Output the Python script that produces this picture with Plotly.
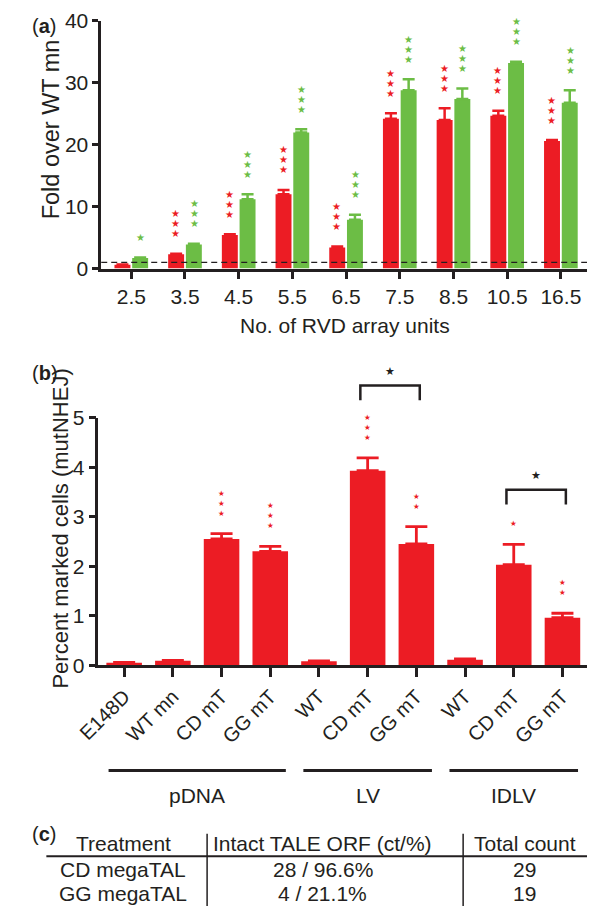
import plotly.graph_objects as go

FONT = "Liberation Sans, Arial, Helvetica, sans-serif"
RED = "#ec1c24"
GREEN = "#6cbd45"
INK = "#231f20"
OFF = 8                      # page body margin
W, H = 595 - OFF, 917 - OFF  # figure fills the rest of the window

# ---------------- Panel (a) data ----------------
rvd_units = ["2.5", "3.5", "4.5", "5.5", "6.5", "7.5", "8.5", "10.5", "16.5"]
red_mean = [0.6, 2.3, 5.4, 12.0, 3.4, 24.2, 24.0, 24.7, 20.6]
red_err = [0.05, 0.1, 0.15, 0.7, 0.15, 0.9, 1.9, 0.8, 0.15]
green_mean = [1.7, 3.9, 11.2, 22.0, 7.9, 28.8, 27.4, 33.2, 26.8]
green_err = [0.1, 0.1, 0.8, 0.5, 0.8, 1.8, 1.7, 0.2, 2.0]
red_stars = [0, 3, 3, 3, 3, 3, 3, 3, 3]
green_stars = [1, 3, 3, 3, 3, 3, 3, 3, 3]
a_yticks = [0, 10, 20, 30, 40]
wt_baseline = 1

# ---------------- Panel (b) data ----------------
b_labels = ["E148D", "WT mn", "CD mT", "GG mT", "WT", "CD mT", "GG mT", "WT", "CD mT", "GG mT"]
b_mean = [0.05, 0.09, 2.55, 2.30, 0.08, 3.93, 2.45, 0.11, 2.03, 0.96]
b_err = [0.01, 0.01, 0.11, 0.10, 0.01, 0.26, 0.35, 0.02, 0.41, 0.09]
b_stars = [0, 0, 3, 3, 0, 3, 2, 0, 1, 2]
b_groups = ["pDNA", "LV", "IDLV"]
b_group_members = [[0, 1, 2, 3], [4, 5, 6], [7, 8, 9]]
b_brackets = [(5, 6), (8, 9)]
b_yticks = [0, 1, 2, 3, 4, 5]

# ---------------- Panel (c) table ----------------
table_header = ["Treatment", "Intact TALE ORF (ct/%)", "Total count"]
table_rows = [["CD megaTAL", "28 / 96.6%", "29"],
              ["GG megaTAL", "4 / 21.1%", "19"]]


def px(x):
    return (x - OFF) / W


def py(y):
    return 1 - (y - OFF) / H


fig = go.Figure()

# Panel a bars
fig.add_trace(go.Bar(
    x=rvd_units, y=red_mean, marker=dict(color=RED, line=dict(width=0)),
    error_y=dict(type="data", array=red_err, arrayminus=[0] * len(red_err), symmetric=False,
                 color=RED, thickness=2.5, width=6),
    xaxis="x", yaxis="y", showlegend=False))
fig.add_trace(go.Bar(
    x=rvd_units, y=green_mean, marker=dict(color=GREEN, line=dict(width=0)),
    error_y=dict(type="data", array=green_err, arrayminus=[0] * len(green_err), symmetric=False,
                 color=GREEN, thickness=2.5, width=6),
    xaxis="x", yaxis="y", showlegend=False))

# Panel b bars
fig.add_trace(go.Bar(
    x=list(range(len(b_labels))), y=b_mean, width=0.73,
    marker=dict(color=RED, line=dict(width=0)),
    error_y=dict(type="data", array=b_err, arrayminus=[0] * len(b_err), symmetric=False,
                 color=RED, thickness=2.8, width=11),
    xaxis="x2", yaxis="y2", showlegend=False))

annotations = []
shapes = []

# stars panel a
for i in range(len(rvd_units)):
    for series_mean, series_err, stars, color, shift in [
        (red_mean, red_err, red_stars, RED, -9.2),
        (green_mean, green_err, green_stars, GREEN, 9.2)]:
        for k in range(stars[i]):
            annotations.append(dict(
                x=i, y=series_mean[i] + series_err[i], xref="x", yref="y",
                xshift=shift, yshift=20 + 10 * k, text="★", showarrow=False,
                font=dict(size=10, color=color, family="DejaVu Sans"),
                xanchor="center", yanchor="middle"))

# baseline dashed
shapes.append(dict(type="line", xref="x domain", yref="y", x0=0, x1=1,
                   y0=wt_baseline, y1=wt_baseline,
                   line=dict(color=INK, width=1.3, dash="6px,4px")))

# stars panel b (one stacked text per bar)
for i in range(len(b_labels)):
    if b_stars[i]:
        annotations.append(dict(
            x=i, y=b_mean[i] + b_err[i], xref="x2", yref="y2",
            yshift=15, text="<br>".join(["★"] * b_stars[i]), showarrow=False,
            font=dict(size=7.5, color=RED, family="DejaVu Sans"),
            xanchor="center", yanchor="bottom", borderpad=0))

# brackets panel b
bracket_tops = [383, 490]
for (i, j), top in zip(b_brackets, bracket_tops):
    x0, x1 = i - 0.15, j + 0.07
    yt, yb = py(top), py(top + 15)
    shapes.append(dict(type="path", xref="x2", yref="paper",
                       path=f"M {x0},{yb} L {x0},{yt} L {x1},{yt} L {x1},{yb}",
                       line=dict(color=INK, width=2.5)))
    annotations.append(dict(x=(x0 + x1) / 2, y=yt, xref="x2", yref="paper", yshift=14,
                            text="★", showarrow=False,
                            font=dict(size=11, color=INK, family="DejaVu Sans"),
                            xanchor="center", yanchor="middle"))

# groups panel b
for name, members in zip(b_groups, b_group_members):
    shapes.append(dict(type="line", xref="x2", yref="paper",
                       x0=members[0] - 0.32, x1=members[-1] + 0.32,
                       y0=py(778), y1=py(778), line=dict(color=INK, width=3)))
    annotations.append(dict(x=sum(members) / len(members), y=py(804), xref="x2", yref="paper",
                            text=name, showarrow=False, font=dict(size=21, color=INK),
                            xanchor="center", yanchor="middle"))

# axis titles
annotations.append(dict(x=px(335), y=py(321), xref="paper", yref="paper",
                        text="No. of RVD array units", showarrow=False,
                        font=dict(size=21, color=INK), xanchor="center", yanchor="middle"))
annotations.append(dict(x=px(30), y=py(120), xref="paper", yref="paper",
                        text="Fold over WT mn", textangle=-90, showarrow=False,
                        font=dict(size=23.5, color=INK), xanchor="center", yanchor="middle"))
annotations.append(dict(x=px(40), y=py(530), xref="paper", yref="paper",
                        text="Percent marked cells (mutNHEJ)", textangle=-90, showarrow=False,
                        font=dict(size=22, color=INK), xanchor="center", yanchor="middle"))

# panel labels
for lab, (lx, ly) in zip(["a", "b", "c"], [(8, 14), (8, 370), (8, 843)]):
    annotations.append(dict(x=px(lx), y=py(ly), xref="paper", yref="paper",
                            text=f"(<b>{lab}</b>)", showarrow=False,
                            font=dict(size=20, color=INK), xanchor="left", yanchor="middle"))

# table
col_centers = [105, 312, 522]
row_y = [853, 880, 904]
for c, txt in enumerate(table_header):
    annotations.append(dict(x=px(col_centers[c]), y=py(row_y[0]), xref="paper", yref="paper",
                            text=txt, showarrow=False, font=dict(size=21, color=INK),
                            xanchor="center", yanchor="middle"))
for r, row in enumerate(table_rows):
    for c, txt in enumerate(row):
        annotations.append(dict(x=px(col_centers[c]), y=py(row_y[r + 1]), xref="paper",
                                yref="paper", text=txt, showarrow=False,
                                font=dict(size=21, color=INK),
                                xanchor="center", yanchor="middle"))
shapes.append(dict(type="line", xref="paper", yref="paper", x0=px(25), x1=1,
                   y0=py(866), y1=py(866), line=dict(color=INK, width=2)))
for vx in [192, 458]:
    shapes.append(dict(type="line", xref="paper", yref="paper", x0=px(vx), x1=px(vx),
                       y0=py(843), y1=0, line=dict(color=INK, width=1.5)))

axis_common = dict(showline=True, linecolor=INK, linewidth=2.5, ticks="outside",
                   tickcolor=INK, tickwidth=2.5, showgrid=False, zeroline=False,
                   tickfont=dict(size=21, color=INK))

fig.update_layout(
    width=W, height=H, margin=dict(l=0, r=0, t=0, b=0),
    paper_bgcolor="white", plot_bgcolor="white",
    font=dict(family=FONT, color=INK),
    barmode="group", bargap=0.34, bargroupgap=0.1,
    xaxis=dict(domain=[px(82), px(588)], anchor="y", type="category",
               range=[-0.56, 8.51], ticklen=8, **axis_common),
    yaxis=dict(domain=[py(263), py(9)], anchor="x", range=[0, 40],
               tickvals=a_yticks, ticklen=6, **axis_common),
    xaxis2=dict(domain=[px(79), px(588)], anchor="y2", range=[-0.53, 9.53],
                tickvals=list(range(len(b_labels))), ticktext=b_labels, tickangle=-45,
                ticklen=9, **{**axis_common, "tickfont": dict(size=20, color=INK)}),
    yaxis2=dict(domain=[py(670), py(416)], anchor="x2", range=[0, 5],
                tickvals=b_yticks, ticklen=7, **axis_common),
    annotations=annotations, shapes=shapes,
)

fig.write_html("out.html")
